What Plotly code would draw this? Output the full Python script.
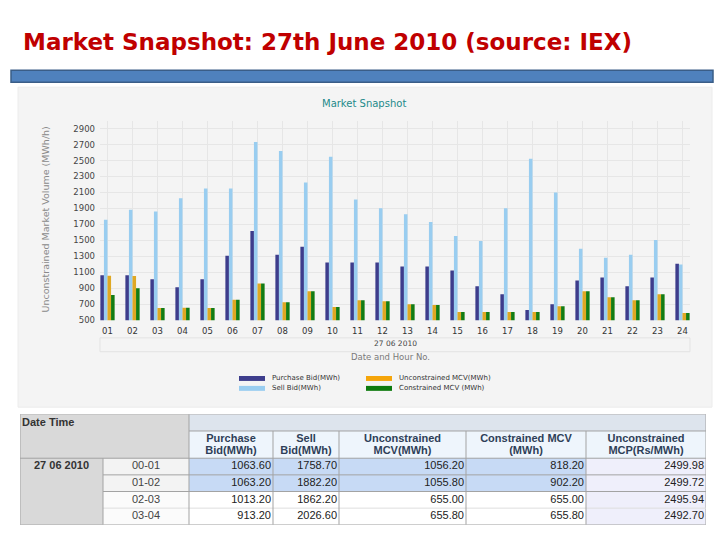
import plotly.graph_objects as go

W, H = 720, 540

def fx(x):
    return x / W

def fy(y):
    return 1 - y / H

# ---------------- chart data ----------------
hours = ["01", "02", "03", "04", "05", "06", "07", "08", "09", "10", "11", "12",
         "13", "14", "15", "16", "17", "18", "19", "20", "21", "22", "23", "24"]
purchase_bid = [1063.6, 1063.2, 1013.2, 913.2, 1013, 1308, 1618, 1321, 1420, 1222, 1222, 1222,
                1172, 1172, 1123, 925, 826, 628, 702, 999, 1036, 925, 1036, 1209]
sell_bid = [1758.7, 1882.2, 1862.2, 2026.6, 2150, 2150, 2731, 2620, 2224, 2546, 2013, 1902,
            1828, 1729, 1556, 1494, 1902, 2521, 2100, 1395, 1284, 1321, 1506, 1198]
unconstrained_mcv = [1056.2, 1055.8, 655.0, 655.8, 655, 756, 962, 727, 863, 665, 752, 739,
                     702, 690, 603, 603, 603, 603, 677, 863, 789, 752, 826, 591]
constrained_mcv = [818.2, 902.2, 655.0, 655.8, 655, 756, 962, 727, 863, 665, 752, 739,
                   702, 690, 603, 603, 603, 603, 677, 863, 789, 752, 826, 591]

series_names = ["Purchase Bid(MWh)", "Sell Bid(MWh)", "Unconstrained MCV(MWh)", "Constrained MCV (MWh)"]
series_values = [purchase_bid, sell_bid, unconstrained_mcv, constrained_mcv]
bar_colors = ["#3d3d8c", "#99cdf0", "#dfa823", "#137c13"]
legend_colors = ["#3d3d8c", "#99cdf0", "#f5a50a", "#0d7a0d"]

y_ticks = [500, 700, 900, 1100, 1300, 1500, 1700, 1900, 2100, 2300, 2500, 2700, 2900]

# ---------------- table data ----------------
table_date = "27 06 2010"
table_hours = ["00-01", "01-02", "02-03", "03-04"]
table_purchase = ["1063.60", "1063.20", "1013.20", "913.20"]
table_sell = ["1758.70", "1882.20", "1862.20", "2026.60"]
table_uncon_mcv = ["1056.20", "1055.80", "655.00", "655.80"]
table_con_mcv = ["818.20", "902.20", "655.00", "655.80"]
table_mcp = ["2499.98", "2499.72", "2495.94", "2492.70"]
header_line1 = ["Purchase", "Sell", "Unconstrained", "Constrained MCV", "Unconstrained"]
header_line2 = ["Bid(MWh)", "Bid(MWh)", "MCV(MWh)", "(MWh)", "MCP(Rs/MWh)"]

fig = go.Figure()

for name, vals, col in zip(series_names, series_values, bar_colors):
    fig.add_trace(go.Bar(x=hours, y=vals, name=name, marker=dict(color=col, line=dict(width=0)),
                         showlegend=False, xaxis="x", yaxis="y"))

# ---------------- table (own hidden axes, pixel-like units) ----------------
col_widths = [83, 86, 84, 66, 127, 120, 120]
row_heights = [17, 27.5, 16.8, 16.8, 16.8, 16.8]
col_edges = [0]
for w in col_widths:
    col_edges.append(col_edges[-1] + w)
row_edges = [0]
for h in row_heights:
    row_edges.append(row_edges[-1] + h)
col_mid = [(col_edges[i] + col_edges[i + 1]) / 2 for i in range(len(col_widths))]
row_mid = [(row_edges[i] + row_edges[i + 1]) / 2 for i in range(len(row_heights))]

fill_palette = ["#d9d9d9", "#dde4ed", "#eef5fc", "#f3f3f3", "#fbfbfb", "#c7daf5", "#ffffff", "#efeffb"]
G, HB, HL, H1, H2, B, Wt, L = range(8)
fill_codes = [
    [G, G, HB, HB, HB, HB, HB],
    [G, G, HL, HL, HL, HL, HL],
    [G, H1, B, B, B, B, L],
    [G, H1, B, B, B, B, L],
    [G, H2, Wt, Wt, Wt, Wt, L],
    [G, H2, Wt, Wt, Wt, Wt, L],
]
nmax = len(fill_palette) - 1
colorscale = [[i / nmax, c] for i, c in enumerate(fill_palette)]

fig.add_trace(go.Heatmap(x=col_edges, y=row_edges, z=fill_codes, zmin=0, zmax=nmax,
                         colorscale=colorscale, showscale=False, hoverinfo="skip",
                         xaxis="x2", yaxis="y2"))

TFONT = "Liberation Sans"
HEAD_COLOR = "#2e3f58"

def text_trace(xs, ys, texts, pos, size=11, color="#222222", bold=False):
    if bold:
        texts = ["<b>" + t + "</b>" for t in texts]
    return go.Scatter(x=xs, y=ys, text=texts, mode="text", textposition=pos,
                      textfont=dict(family=TFONT, size=size, color=color),
                      hoverinfo="skip", showlegend=False, cliponaxis=False,
                      xaxis="x2", yaxis="y2")

fig.add_trace(text_trace([col_edges[0] + 2], [row_mid[0] + 0.5], ["Date Time"], "middle right",
                         color="#333333", bold=True))
fig.add_trace(text_trace(col_mid[2:], [row_edges[1] + 8.5] * 5, header_line1, "middle center",
                         color=HEAD_COLOR, bold=True))
fig.add_trace(text_trace(col_mid[2:], [row_edges[1] + 20.5] * 5, header_line2, "middle center",
                         color=HEAD_COLOR, bold=True))
fig.add_trace(text_trace([col_mid[0]], [row_mid[2]], [table_date], "middle center",
                         color="#333333", bold=True))
fig.add_trace(text_trace([col_mid[1]] * len(table_hours), row_mid[2:], table_hours, "middle center",
                         color="#444444"))
for ci, vals in zip(range(2, 7), [table_purchase, table_sell, table_uncon_mcv, table_con_mcv, table_mcp]):
    fig.add_trace(text_trace([col_edges[ci + 1] - 2] * len(vals), row_mid[2:], vals, "middle left"))

LINE = "#a3a3a3"
tshapes = []
def tline(x0, y0, x1, y1, color=LINE):
    tshapes.append(dict(type="line", xref="x2", yref="y2", x0=x0, y0=y0, x1=x1, y1=y1,
                        line=dict(color=color, width=1), layer="above"))

tw, th = col_edges[-1], row_edges[-1]
tline(0, 0, tw, 0)
tline(0, th, tw, th)
tline(0, 0, 0, th)
tline(tw, 0, tw, th)
tline(col_edges[2], row_edges[1], tw, row_edges[1])
tline(0, row_edges[2], tw, row_edges[2])
for r in (3, 4):
    tline(col_edges[1], row_edges[r], tw, row_edges[r])
tline(col_edges[1], row_edges[5], tw, row_edges[5], color="#dedede")
tline(col_edges[1], row_edges[2], col_edges[1], th)
tline(col_edges[2], 0, col_edges[2], th)
for c in range(3, 7):
    tline(col_edges[c], row_edges[1], col_edges[c], th)

# ---------------- decoration shapes ----------------
shapes = [
    dict(type="rect", xref="paper", yref="paper", x0=fx(11), x1=fx(713), y0=fy(83), y1=fy(71),
         fillcolor="#4f81bd", line=dict(color="#3a5d87", width=1.5), layer="below"),
    dict(type="rect", xref="paper", yref="paper", x0=fx(18), x1=fx(712), y0=fy(411), y1=fy(88),
         fillcolor="#f4f4f4", line=dict(color="#ececec", width=1), layer="below"),
    dict(type="rect", xref="paper", yref="paper", x0=fx(100), x1=fx(690), y0=fy(355), y1=fy(341),
         fillcolor="rgba(0,0,0,0)", line=dict(color="#e3e3e3", width=1), layer="below"),
] + tshapes

annotations = [
    dict(text="<b>Market Snapshot: 27th June 2010 (source: IEX)</b>", xref="paper", yref="paper",
         x=fx(21), y=fy(42), xanchor="left", yanchor="middle", showarrow=False,
         font=dict(family="DejaVu Sans", size=23, color="#c00000")),
    dict(text="Market Snapshot", xref="paper", yref="paper", x=fx(364), y=fy(104.5),
         xanchor="center", yanchor="middle", showarrow=False,
         font=dict(family="DejaVu Sans", size=10, color="#238a8a")),
    dict(text="Unconstrained Market Volume (MWh/h)", xref="paper", yref="paper", x=fx(45), y=fy(221.5),
         xanchor="center", yanchor="middle", showarrow=False, textangle=-90,
         font=dict(family="DejaVu Sans", size=9.5, color="#8a8a8a")),
    dict(text=table_date, xref="paper", yref="paper", x=fx(395), y=fy(347),
         xanchor="center", yanchor="middle", showarrow=False,
         font=dict(family="DejaVu Sans", size=7.5, color="#444444")),
    dict(text="Date and Hour No.", xref="paper", yref="paper", x=fx(391), y=fy(360),
         xanchor="center", yanchor="middle", showarrow=False,
         font=dict(family="DejaVu Sans", size=8.5, color="#7a7a7a")),
]

legend_pos = [(239, 382), (239, 392), (366, 382), (366, 392)]
for (lx, ly), name, col in zip(legend_pos, series_names, legend_colors):
    shapes.append(dict(type="rect", xref="paper", yref="paper", x0=fx(lx), x1=fx(lx + 26),
                       y0=fy(ly + 2.5), y1=fy(ly - 2.5), fillcolor=col, line=dict(width=0)))
    annotations.append(dict(text=name, xref="paper", yref="paper", x=fx(lx + 31), y=fy(ly),
                            xanchor="left", yanchor="middle", showarrow=False,
                            font=dict(family="DejaVu Sans", size=7, color="#333333")))

fig.update_layout(
    width=W, height=H,
    margin=dict(l=0, r=0, t=0, b=0),
    paper_bgcolor="white",
    plot_bgcolor="white",
    barmode="group",
    bargap=0.43,
    bargroupgap=0,
    showlegend=False,
    shapes=shapes,
    annotations=annotations,
    xaxis=dict(domain=[fx(100), fx(690)], type="category", range=[-0.3, 23.3],
               showgrid=True, gridcolor="#e6e6e6", gridwidth=1, zeroline=False,
               showline=False, ticks="", ticklabelstandoff=4, anchor="y",
               tickfont=dict(family="DejaVu Sans", size=8.5, color="#333333")),
    yaxis=dict(domain=[fy(323.3), fy(121.7)], range=[500, 3000], tickvals=y_ticks,
               showgrid=True, gridcolor="#e6e6e6", gridwidth=1, zeroline=False,
               showline=False, ticks="", ticklabelstandoff=4, anchor="x",
               tickfont=dict(family="DejaVu Sans", size=8.5, color="#444444")),
    xaxis2=dict(domain=[fx(20), fx(20 + tw)], range=[0, tw], visible=False, anchor="y2",
                fixedrange=True),
    yaxis2=dict(domain=[fy(418 + th), fy(418)], range=[th, 0], visible=False, anchor="x2",
                fixedrange=True),
)

fig.write_html("out.html", config={"displayModeBar": False},
               post_script="document.body.style.margin='0px';")
